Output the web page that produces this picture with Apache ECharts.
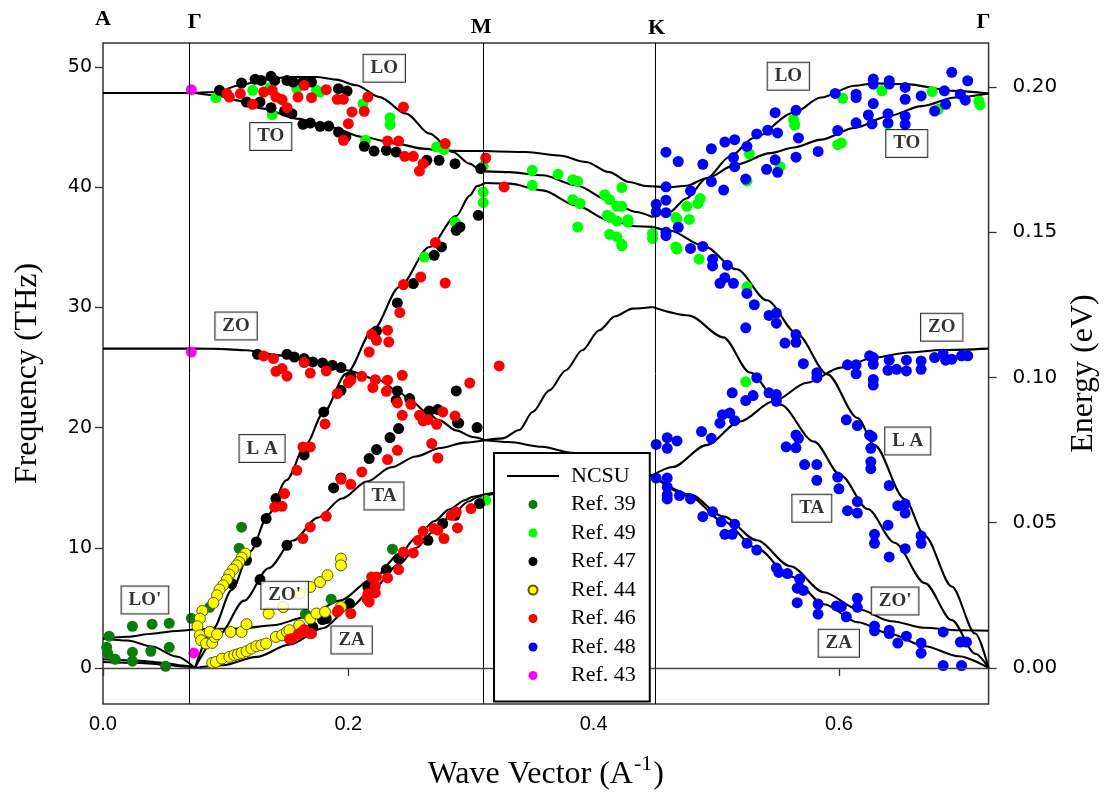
<!DOCTYPE html>
<html><head><meta charset="utf-8">
<script src="https://cdn.jsdelivr.net/npm/echarts@6/dist/echarts.min.js"></script>
<style>html,body{margin:0;padding:0;background:#fff}#c{width:1108px;height:804px}</style>
</head><body><div id="c"></div>
<script>
// ---------------- data ----------------
const THZ_TO_EV = 0.0041357;
const X_MIN = 0, X_MAX = 0.722;
const Y_MIN = -3, Y_MAX = 52;
const symmetryNames = ['A', 'Γ', 'M', 'K', 'Γ'];
const symmetryX = [0, 0.0749, 0.3115, 0.448, 0.722];
const freqTicks = [0, 10, 20, 30, 40, 50];
const energyTicks = [0, 0.05, 0.10, 0.15, 0.20];
const waveTicks = [0, 0.2, 0.4, 0.6];

// NCSU dispersion branches  [wave vector, frequency THz]
// A - Gamma
const agLO = [[0,47.84],[0.0749,47.84]];
const agZO = [[0,26.57],[0.0749,26.57]];
const agLA = [[0,2.45],[0.02,2.28],[0.04,1.78],[0.06,0.95],[0.0749,0]];
const agLOp = [[0,2.45],[0.02,2.6],[0.04,2.85],[0.06,3.08],[0.0749,3.22]];
const agTA1 = [[0,0.72],[0.03,0.6],[0.05,0.41],[0.065,0.2],[0.0749,0]];
const agTA2 = [[0,0.5],[0.03,0.42],[0.05,0.28],[0.065,0.12],[0.0749,0]];
// Gamma - M
const gmLO = [[0.0749,47.84],[0.0925,47.92],[0.1115,48.48],[0.1305,48.95],[0.1522,49.17],[0.1739,49.17],[0.1902,48.95],[0.2065,48.48],[0.2255,47.5],[0.2472,46.12],[0.2662,44.46],[0.2852,42.93],[0.2987,41.96],[0.3083,41.41],[0.3115,41.32]];
const gmTO = [[0.0749,47.84],[0.0925,47.64],[0.1088,47.23],[0.1305,46.54],[0.1577,45.71],[0.1848,45.01],[0.2119,44.18],[0.2391,43.63],[0.2607,43.21],[0.277,43.03],[0.295,43.01],[0.3115,43.01]];
const gmLA = [[0.0749,0],[0.09,3.3],[0.105,6.5],[0.12,9.7],[0.135,12.8],[0.1495,15.62],[0.1658,18.67],[0.1793,21.16],[0.1984,24.49],[0.22,28.09],[0.2417,31.7],[0.2661,35.02],[0.2879,37.6],[0.299,39.3],[0.305,40.1],[0.3115,40.35]];
const gmTA = [[0.0749,0],[0.095,2.8],[0.115,5.6],[0.135,8.3],[0.155,10.6],[0.175,12.5],[0.195,14.1],[0.215,15.5],[0.235,16.7],[0.255,17.6],[0.275,18.3],[0.295,18.75],[0.3115,18.95]];
const gmZO = [[0.0749,26.57],[0.095,26.55],[0.117,26.43],[0.1441,26.01],[0.1712,25.46],[0.1984,24.77],[0.2255,23.94],[0.2418,22.9],[0.2526,22.1],[0.2635,21.3],[0.2743,20.6],[0.2879,19.77],[0.3014,19.22],[0.3115,18.95]];
const gmZA = [[0.0749,0],[0.0979,0.22],[0.1251,0.92],[0.1522,1.95],[0.1793,3.3],[0.2011,5.0],[0.22,6.6],[0.2412,8.6],[0.2554,10.0],[0.27,11.4],[0.285,12.8],[0.298,13.85],[0.306,14.25],[0.3115,14.35]];
const gmZOp = [[0.0749,3.22],[0.1115,3.28],[0.1386,3.55],[0.1658,4.24],[0.1929,5.6],[0.22,7.4],[0.2412,9.4],[0.2554,10.85],[0.27,12.2],[0.2825,13.2],[0.295,13.95],[0.3015,14.25],[0.3115,14.45]];
// M - K
const mkTO = [[0.3115,43.01],[0.3449,42.93],[0.372,42.64],[0.3937,42.1],[0.4127,41.26],[0.429,40.43],[0.4426,40.1],[0.448,40.07]];
const mkLO = [[0.3115,41.32],[0.3313,41.26],[0.3584,40.99],[0.3856,40.16],[0.4127,38.91],[0.4344,37.94],[0.448,37.52]];
const mkLA = [[0.3115,40.35],[0.3313,40.3],[0.3584,39.74],[0.3856,38.49],[0.4127,37.25],[0.4344,36.75],[0.448,36.7]];
const mkTA = [[0.3115,18.95],[0.3258,19.1],[0.3394,19.8],[0.3503,21.3],[0.3639,23.1],[0.3774,24.77],[0.3907,26.43],[0.4046,28.1],[0.4176,29.26],[0.4317,29.9],[0.448,30.03]];
const mkZO = [[0.3115,18.95],[0.3307,18.8],[0.358,18.4],[0.382,17.9],[0.4208,17.0],[0.437,16.4],[0.448,16.02]];
const mkZA = [[0.3115,14.35],[0.33,14.6],[0.36,14.95],[0.39,15.35],[0.42,15.75],[0.448,16.02]];
const mkZOp = [[0.3115,14.45],[0.33,14.7],[0.36,15.05],[0.39,15.45],[0.42,15.8],[0.448,16.02]];
// K - Gamma
const kgLO = [[0.448,37.52],[0.4619,37.94],[0.4756,39.06],[0.4921,40.74],[0.5113,42.55],[0.5305,44.1],[0.5634,46.2],[0.5853,47.46],[0.6127,48.44],[0.6291,48.64],[0.6538,48.58],[0.6949,48.02],[0.722,47.8]];
const kgTO = [[0.448,40.07],[0.462,40.0],[0.4756,40.12],[0.4921,40.74],[0.5154,41.86],[0.5442,42.84],[0.5634,43.31],[0.5853,43.96],[0.6127,44.94],[0.6401,45.91],[0.6675,46.75],[0.6949,47.46],[0.722,47.8]];
const kgLA = [[0.448,36.7],[0.4619,36.4],[0.4894,35.13],[0.5167,33.17],[0.5413,30.59],[0.5659,27.79],[0.5906,24.43],[0.6153,20.79],[0.629,18.54],[0.6536,14.06],[0.6701,10.98],[0.692,6.78],[0.7112,2.86],[0.722,0]];
const kgTA = [[0.448,30.03],[0.4776,29.33],[0.5057,27.51],[0.5276,24.57],[0.5522,21.91],[0.5797,18.83],[0.6015,16.02],[0.6235,13.22],[0.6454,10.42],[0.6701,7.06],[0.692,3.98],[0.7112,1.18],[0.722,0]];
const kgZO = [[0.448,16.02],[0.4645,16.72],[0.4919,18.54],[0.5193,20.51],[0.5467,22.19],[0.5741,23.73],[0.6015,24.99],[0.629,25.83],[0.6564,26.25],[0.6838,26.45],[0.722,26.57]];
const kgZOp = [[0.448,16.02],[0.4782,14.45],[0.5055,12.62],[0.533,10.62],[0.5604,8.46],[0.5877,6.3],[0.6154,4.9],[0.6427,3.89],[0.6699,3.34],[0.6976,3.14],[0.722,3.1]];
const kgZA = [[0.448,16.02],[0.4782,14.28],[0.5055,12.2],[0.533,9.96],[0.5604,7.63],[0.5877,5.3],[0.6154,3.8],[0.6427,2.8],[0.6699,1.81],[0.6976,0.97],[0.722,0]];

const ncsuBranches = [agLO, agZO, agLA, agLOp, agTA1, agTA2,
  gmLO, gmTO, gmLA, gmTA, gmZO, gmZA, gmZOp,
  mkTO, mkLO, mkLA, mkTA, mkZO, mkZA, mkZOp,
  kgLO, kgTO, kgLA, kgTA, kgZO, kgZOp, kgZA];

// experimental points [wave vector, frequency THz]
const ref39 = [[0.005,2.64],[0.024,3.47],[0.040,3.64],[0.054,3.72],[0.072,4.13],[0.003,1.72],[0.004,1.22],[0.010,0.72],[0.024,0.56],[0.024,1.31],[0.039,1.39],[0.054,1.72],[0.051,0.14],[0.113,11.71],[0.111,9.96],[0.087,5.05],[0.236,9.88],[0.186,5.72],[0.165,4.47]];
const ref49 = [[0.092,47.45],[0.122,48.06],[0.138,46.04],[0.136,48.28],[0.158,48.20],[0.174,48.06],[0.177,47.92],[0.212,46.95],[0.214,43.90],[0.234,45.79],[0.234,45.21],[0.272,43.34],[0.278,43.13],[0.310,41.76],
  [0.262,34.19],[0.287,37.11],[0.310,39.60],[0.310,38.72],
  [0.350,41.41],[0.350,40.16],[0.371,41.07],[0.383,40.63],[0.387,40.49],[0.383,38.97],[0.389,38.64],[0.387,36.69],[0.409,39.38],[0.413,38.97],[0.423,39.97],[0.419,38.41],[0.423,38.41],[0.411,37.66],[0.414,37.47],[0.419,37.19],[0.428,37.30],[0.413,36.08],[0.419,35.86],[0.423,35.25],[0.448,36.14],[0.448,35.72],[0.467,37.47],[0.467,35.03],
  [0.428,37.10],[0.423,35.13],[0.468,37.37],[0.478,37.32],[0.468,34.85],[0.486,34.01],[0.476,38.41],[0.487,39.06],[0.485,38.64],[0.527,42.78],[0.525,40.52],[0.552,41.71],[0.563,45.64],[0.564,45.17],[0.603,47.40],[0.602,43.68],[0.599,43.54],[0.635,48.02],[0.640,45.27],[0.676,47.96],[0.681,46.48],[0.714,47.18],[0.715,46.85],[0.525,31.71],[0.524,23.81],[0.312,13.95]];
const ref47 = [[0.095,48.06],[0.113,48.67],[0.117,47.09],[0.124,48.98],[0.129,48.89],[0.128,47.09],[0.137,49.23],[0.137,46.62],[0.140,48.89],[0.150,48.89],[0.155,48.75],[0.163,48.75],[0.170,48.75],[0.148,46.34],[0.154,46.12],[0.163,45.23],[0.169,45.34],[0.177,45.07],[0.184,45.09],[0.192,48.20],[0.199,48.00],[0.192,44.59],[0.198,44.18],[0.213,43.40],[0.221,43.01],[0.231,43.07],[0.239,42.93],[0.264,42.24],[0.274,42.24],[0.287,41.96],[0.308,41.55],
  [0.126,26.10],[0.150,26.10],[0.156,25.87],[0.164,25.74],[0.171,25.46],[0.179,25.38],[0.187,25.18],[0.194,24.99],[0.202,24.27],[0.194,23.10],[0.240,23.05],[0.250,22.41],[0.266,21.38],[0.273,21.50],[0.289,20.42],[0.305,20.00],[0.288,23.05],[0.239,22.27],[0.290,20.38],
  [0.223,28.04],[0.240,30.37],[0.253,31.98],[0.270,34.33],[0.276,35.03],[0.288,36.41],[0.291,36.69],[0.306,37.66],[0.222,27.95],[0.180,21.30],[0.164,17.72],[0.117,8.96],[0.125,10.48],[0.133,12.43],[0.141,14.09],[0.105,7.02],
  [0.194,15.81],[0.217,17.42],[0.223,18.17],[0.234,19.17],[0.241,19.92],[0.188,14.98],[0.128,7.35],[0.150,10.21],
  [0.307,13.68],[0.287,12.70],[0.277,12.01],[0.265,10.62],[0.241,9.10],[0.231,8.19],[0.216,6.74],[0.201,5.36],[0.182,4.11],[0.171,3.41],[0.179,4.03]];
const ref44 = [[0.116,9.52],[0.113,9.18],[0.111,8.82],[0.109,8.54],[0.106,8.19],[0.103,7.77],[0.101,7.35],[0.098,6.88],[0.095,6.52],[0.093,6.05],[0.090,5.41],[0.081,4.74],[0.079,4.11],[0.077,3.47],[0.079,2.72],[0.080,2.30],[0.084,2.03],[0.089,2.08],[0.091,2.58],[0.087,3.00],[0.093,2.80],[0.104,3.00],[0.113,3.00],[0.117,3.64],[0.135,4.53],[0.089,0.42],[0.092,0.50],[0.097,0.78],[0.103,0.92],[0.107,1.06],[0.110,1.14],[0.113,1.25],[0.117,1.39],[0.121,1.61],[0.125,1.81],[0.129,1.89],[0.133,2.03],[0.141,2.58],[0.146,2.72],[0.150,3.00],[0.152,3.14],[0.147,5.07],[0.160,3.55],[0.169,4.11],[0.174,4.53],[0.181,4.66],[0.194,5.07],[0.169,6.74],[0.177,7.15],[0.183,7.71],[0.194,9.10],[0.194,8.54],[0.160,6.19]];
const ref46 = [[0.101,47.79],[0.103,47.50],[0.112,47.79],[0.122,46.90],[0.131,47.92],[0.138,48.06],[0.141,47.50],[0.146,47.29],[0.150,46.62],[0.159,47.50],[0.164,48.48],[0.170,47.45],[0.182,48.12],[0.191,47.31],[0.196,47.31],[0.200,45.29],[0.196,43.90],[0.203,46.26],[0.213,46.32],[0.216,47.50],[0.232,43.84],[0.241,43.84],[0.245,46.67],[0.246,42.57],[0.253,42.57],[0.261,41.96],[0.258,41.35],[0.279,43.63],[0.312,42.43],[0.327,40.02],
  [0.131,25.96],[0.139,25.74],[0.141,24.68],[0.146,24.91],[0.150,24.29],[0.164,25.41],[0.169,24.54],[0.182,24.71],[0.191,22.83],[0.200,23.74],[0.202,23.94],[0.211,24.27],[0.220,23.33],[0.222,23.99],[0.232,23.94],[0.231,23.02],[0.240,22.05],[0.244,24.35],[0.244,21.02],[0.251,21.94],[0.258,21.02],[0.261,20.55],[0.265,20.67],[0.272,20.27],[0.277,21.30],[0.287,20.97],[0.299,23.71],[0.268,18.67],[0.273,17.47],[0.240,18.11],[0.232,17.34],[0.211,16.31],[0.181,20.30],[0.163,18.39],[0.169,18.39],[0.158,16.45],[0.219,27.76],[0.223,27.26],[0.217,26.29],[0.232,28.10],[0.233,27.12],[0.242,29.57],[0.245,31.90],[0.259,32.53],[0.271,35.39],[0.279,32.03],[0.323,25.13],[0.202,15.28],[0.194,15.70],[0.182,12.62],[0.169,11.73],[0.163,10.77],[0.140,13.39],[0.146,13.45],[0.148,14.51],
  [0.300,13.26],[0.289,11.65],[0.278,10.77],[0.273,11.46],[0.261,11.37],[0.257,10.62],[0.253,9.57],[0.245,9.65],[0.241,8.19],[0.232,7.49],[0.223,7.57],[0.222,6.80],[0.222,6.24],[0.219,7.57],[0.215,5.77],[0.217,5.49],[0.202,4.53],[0.191,4.66],[0.169,2.86],[0.162,3.00],[0.284,12.70],[0.288,12.98],[0.270,11.60],[0.152,2.39],[0.159,2.80],[0.164,3.19],[0.170,2.86],[0.192,4.80],[0.216,6.19],[0.220,7.52],[0.154,2.45]];
const ref48 = [[0.459,42.92],[0.469,42.14],[0.459,40.03],[0.459,38.92],[0.451,38.58],[0.451,37.94],[0.459,37.88],[0.469,36.67],[0.459,36.26],[0.459,35.97],[0.479,39.70],[0.479,34.91],[0.489,35.07],[0.489,41.91],[0.496,43.20],[0.496,40.46],[0.506,39.76],[0.507,43.76],[0.515,43.96],[0.514,42.47],[0.515,41.71],[0.525,43.39],[0.524,40.68],[0.533,44.43],[0.542,44.74],[0.548,46.20],[0.550,44.52],[0.548,42.28],[0.541,41.49],[0.550,41.24],[0.565,46.40],[0.567,44.10],[0.565,42.50],[0.583,42.98],[0.597,47.80],[0.614,47.74],[0.614,47.46],[0.599,44.72],[0.614,45.36],[0.624,46.01],[0.628,46.96],[0.627,45.27],[0.628,49.00],[0.628,48.58],[0.641,48.86],[0.641,48.58],[0.640,46.12],[0.640,45.36],[0.654,48.30],[0.654,47.32],[0.654,45.91],[0.654,45.22],[0.667,47.60],[0.678,46.34],[0.686,48.02],[0.687,46.90],[0.692,49.56],[0.699,47.74],[0.703,47.24],[0.705,48.86],
  [0.497,34.01],[0.497,33.45],[0.509,33.51],[0.503,32.00],[0.507,32.47],[0.514,32.00],[0.525,31.16],
  [0.531,30.22],[0.543,29.33],[0.549,29.53],[0.549,28.69],[0.524,28.30],[0.556,27.03],[0.565,27.74],[0.565,27.09],[0.571,25.32],[0.582,24.57],[0.582,24.15],[0.533,24.15],[0.530,22.66],[0.524,22.25],[0.513,22.89],[0.543,22.89],[0.549,22.75],[0.549,22.19],[0.505,21.07],[0.511,21.21],[0.515,20.57],[0.503,20.37],[0.488,19.67],[0.496,19.11],[0.451,18.60],[0.460,19.16],[0.460,18.27],[0.468,18.89],[0.606,20.65],[0.615,20.17],[0.565,19.38],[0.567,19.11],[0.557,18.40],[0.565,18.32],[0.625,19.38],[0.627,19.24],[0.626,18.27],[0.626,17.15],[0.626,16.58],[0.572,16.92],[0.582,16.92],[0.582,15.61],[0.599,15.88],[0.600,14.90],[0.641,15.18],[0.607,13.09],[0.615,13.84],[0.615,12.89],[0.648,13.50],[0.654,13.64],[0.654,12.89],[0.640,11.88],[0.667,10.98],[0.667,10.37],[0.654,9.92],[0.629,11.12],[0.629,10.37],[0.641,9.24],
  [0.451,15.80],[0.460,15.80],[0.460,15.04],[0.460,14.40],[0.460,14.06],[0.470,14.34],[0.479,14.06],[0.489,12.60],[0.497,13.00],[0.504,12.16],[0.507,11.12],[0.513,11.12],[0.515,11.96],[0.525,10.37],[0.533,9.81],[0.549,8.32],[0.551,7.95],[0.558,7.85],[0.568,7.40],[0.566,6.64],[0.571,6.45],[0.566,5.43],[0.583,5.32],[0.583,4.48],[0.598,5.16],[0.602,5.10],[0.606,4.26],[0.615,5.80],[0.615,5.04],[0.629,3.48],[0.629,3.09],[0.641,3.14],[0.641,2.86],[0.648,2.07],[0.655,2.64],[0.667,2.07],[0.667,1.23],[0.685,3.00],[0.699,2.15],[0.704,2.15],[0.685,0.20],[0.700,0.20],
  [0.607,25.22],[0.614,25.22],[0.614,24.48],[0.625,25.97],[0.628,25.83],[0.628,25.27],[0.628,24.01],[0.628,23.54],[0.641,25.61],[0.640,24.77],[0.647,24.85],[0.655,25.61],[0.655,24.71],[0.667,25.55],[0.667,24.85],[0.678,25.83],[0.685,26.11],[0.687,25.61],[0.692,25.69],[0.700,25.97],[0.705,25.97]];
const ref43 = [[0.072,48.12],[0.072,26.29],[0.074,1.25]];

const refNames = ['Ref. 39', 'Ref. 49', 'Ref. 47', 'Ref. 44', 'Ref. 46', 'Ref. 48', 'Ref. 43'];
const refData = [ref39, ref49, ref47, ref44, ref46, ref48, ref43];

// mode labels [text, wave vector, frequency]
const modeLabels = [['LO',0.2293,49.89],['TO',0.1368,44.23],['LO',0.5588,49.23],['TO',0.6553,43.63],
  ['ZO',0.6838,28.34],['L A',0.6561,18.89],['TA',0.5779,13.29],["ZO'",0.6458,5.58],['ZA',0.5999,2.05],
  ['ZO',0.1085,28.45],['L A',0.1297,18.25],['TA',0.2291,14.31],['ZA',0.2027,2.33],["ZO'",0.1481,6.05],["LO'",0.0342,5.66]];

// ---------------- chart ----------------
const refColors = ['#0a7d0a', '#00ff00', '#000000', '#ffff00', '#ff0000', '#0000ff', '#ff00ff'];
const chart = echarts.init(document.getElementById('c'), null, {renderer: 'canvas'});
const serif = 'Liberation Serif, Times New Roman, serif';

const series = [];
ncsuBranches.forEach(b => series.push({
  type: 'line', name: 'NCSU', data: b, symbol: 'none', smooth: 0.3, smoothMonotone: 'x',
  lineStyle: {color: '#000', width: 2.1}, itemStyle: {color: '#000'}, silent: true, z: 2
}));
refData.forEach((d, i) => series.push({
  type: 'scatter', name: refNames[i], data: d, symbol: 'circle', symbolSize: 11,
  itemStyle: {color: refColors[i], borderColor: i === 3 ? '#5a5a00' : refColors[i], borderWidth: i === 3 ? 1 : 0, opacity: 1},
  silent: true, z: 3
}));
// guide lines
series.push({
  type: 'line', name: 'guides', data: [], silent: true,
  markLine: {
    silent: true, symbol: 'none', animation: false,
    label: {show: false},
    lineStyle: {color: '#000', width: 1, type: 'solid'},
    data: [{xAxis: symmetryX[1]}, {xAxis: symmetryX[2]}, {xAxis: symmetryX[3]},
           {yAxis: 0, lineStyle: {color: '#444', width: 1.3}}]
  }
});
// mode label boxes
series.push({
  type: 'scatter', name: 'modes', silent: true, z: 6,
  data: modeLabels.map(l => ({value: [l[1], l[2]], name: l[0]})),
  symbolSize: 1, itemStyle: {color: 'rgba(0,0,0,0)'},
  label: {show: true, position: 'inside', formatter: '{b}', fontFamily: serif, fontWeight: 'bold',
    fontSize: 19, color: '#000', backgroundColor: '#fff', borderColor: '#000', borderWidth: 1,
    padding: [4, 7, 3, 7], lineHeight: 20}
});

const option = {
  animation: false,
  backgroundColor: '#fff',
  grid: {left: 103, right: 118, top: 43, bottom: 100, show: true, borderColor: '#333', borderWidth: 1.5, containLabel: false},
  xAxis: {
    type: 'value', min: X_MIN, max: X_MAX,
    name: '{n|Wave Vector (A}{s|-1}{n|)}', nameLocation: 'middle', nameGap: 49,
    nameTextStyle: {rich: {
      n: {fontFamily: serif, fontSize: 32, color: '#000', lineHeight: 38, verticalAlign: 'bottom'},
      s: {fontFamily: serif, fontSize: 22, color: '#000', lineHeight: 38, verticalAlign: 'top', padding: [0, 1, 0, 1]}}},
    axisLine: {show: false},
    axisTick: {show: true, inside: false, length: 8, customValues: waveTicks, lineStyle: {color: '#333', width: 1.3}},
    axisLabel: {customValues: waveTicks, formatter: v => v.toFixed(1), fontFamily: 'Liberation Sans, Arial, sans-serif', fontSize: 20, color: '#000', margin: 10},
    splitLine: {show: false}
  },
  yAxis: [{
    type: 'value', min: Y_MIN, max: Y_MAX, position: 'left',
    name: 'Frequency (THz)', nameLocation: 'middle', nameGap: 59,
    nameTextStyle: {fontFamily: serif, fontSize: 32, color: '#000'},
    axisLine: {show: false},
    axisTick: {show: true, inside: false, length: 8, customValues: freqTicks, lineStyle: {color: '#333', width: 1.3}},
    axisLabel: {customValues: freqTicks, fontFamily: 'DejaVu Sans, sans-serif', fontSize: 19, color: '#000', margin: 11},
    splitLine: {show: false}
  }, {
    type: 'value', min: Y_MIN * THZ_TO_EV, max: Y_MAX * THZ_TO_EV, position: 'right', alignTicks: false,
    name: 'Energy (eV)', nameLocation: 'middle', nameGap: 77,
    nameTextStyle: {fontFamily: serif, fontSize: 32, color: '#000'},
    axisLine: {show: false},
    axisTick: {show: true, inside: false, length: 8, customValues: energyTicks, lineStyle: {color: '#333', width: 1.3}},
    axisLabel: {customValues: energyTicks, formatter: v => v.toFixed(2), fontFamily: 'DejaVu Sans, sans-serif', fontSize: 20, color: '#000', margin: 24},
    splitLine: {show: false}
  }],
  legend: {
    orient: 'vertical', left: 494, top: 453, padding: [12, 14, 15, 12], itemGap: 6.5,
    itemWidth: 52, itemHeight: 9, backgroundColor: '#fff', borderColor: '#000', borderWidth: 2,
    selectedMode: false, z: 10,
    textStyle: {fontFamily: serif, fontSize: 22, color: '#000', lineHeight: 22, padding: [0, 0, 0, 7]},
    data: [{name: 'NCSU', itemStyle: {color: 'rgba(0,0,0,0)', borderColor: 'rgba(0,0,0,0)', borderWidth: 0}}].concat(refNames)
  },
  series: series
};
chart.setOption(option);

// high-symmetry point labels above the frame
const symDx = [0, 0, -4, 4, -5];
const symY = [19, 22, 27, 28, 22];
chart.setOption({
  graphic: symmetryNames.map((n, i) => ({
    type: 'text', silent: true, z: 20,
    x: chart.convertToPixel({xAxisIndex: 0}, symmetryX[i]) + symDx[i], y: symY[i],
    style: {text: n, fontFamily: serif, fontWeight: 'bold', fontSize: 22, fill: '#000', align: 'center', verticalAlign: 'middle'}
  }))
});
</script>
</body></html>
